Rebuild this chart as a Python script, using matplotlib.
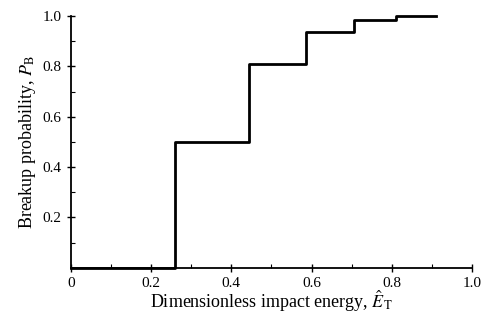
import matplotlib
matplotlib.use("Agg")
import matplotlib.pyplot as plt
from matplotlib.ticker import MultipleLocator, FixedLocator

# Step data (energy thresholds and breakup probability)
energy = [0.0, 0.26, 0.445, 0.585, 0.705, 0.81, 0.91]
prob = [0.0, 0.5, 0.81, 0.935, 0.985, 1.0, 1.0]

xticks = [0, 0.2, 0.4, 0.6, 0.8, 1.0]
xticklabels = ["0", "0.2", "0.4", "0.6", "0.8", "1.0"]
yticks = [0.2, 0.4, 0.6, 0.8, 1.0]
yticklabels = ["0.2", "0.4", "0.6", "0.8", "1.0"]

plt.rcParams['font.family'] = ['Liberation Serif', 'DejaVu Serif']
plt.rcParams['mathtext.fontset'] = 'stix'

fig = plt.figure(figsize=(4.83, 3.21), dpi=100)
ax = fig.add_axes([0.147, 0.166, 0.83, 0.784])

ax.step(energy, prob, where='post', color='black', lw=2.0, clip_on=False, zorder=5)

ax.set_xlim(0, 1.0)
ax.set_ylim(0, 1.0)
ax.spines['top'].set_visible(False)
ax.spines['right'].set_visible(False)
ax.spines['left'].set_linewidth(1.3)
ax.spines['bottom'].set_linewidth(1.3)

ax.xaxis.set_major_locator(FixedLocator(xticks))
ax.set_xticklabels(xticklabels)
ax.yaxis.set_major_locator(FixedLocator(yticks))
ax.set_yticklabels(yticklabels)
ax.xaxis.set_minor_locator(MultipleLocator(0.1))
ax.yaxis.set_minor_locator(MultipleLocator(0.1))
ax.tick_params(which='major', direction='inout', length=6, width=1.0, labelsize=11, pad=4)
ax.tick_params(which='minor', direction='in', length=3, width=0.8)

ax.set_xlabel("Dimensionless impact energy, $\\hat{E}_{\\mathrm{T}}$", fontsize=13, labelpad=-1)
ax.set_ylabel("Breakup probability, $P_{\\mathrm{B}}$", fontsize=13, labelpad=3)

fig.savefig("out.png", dpi=100)
